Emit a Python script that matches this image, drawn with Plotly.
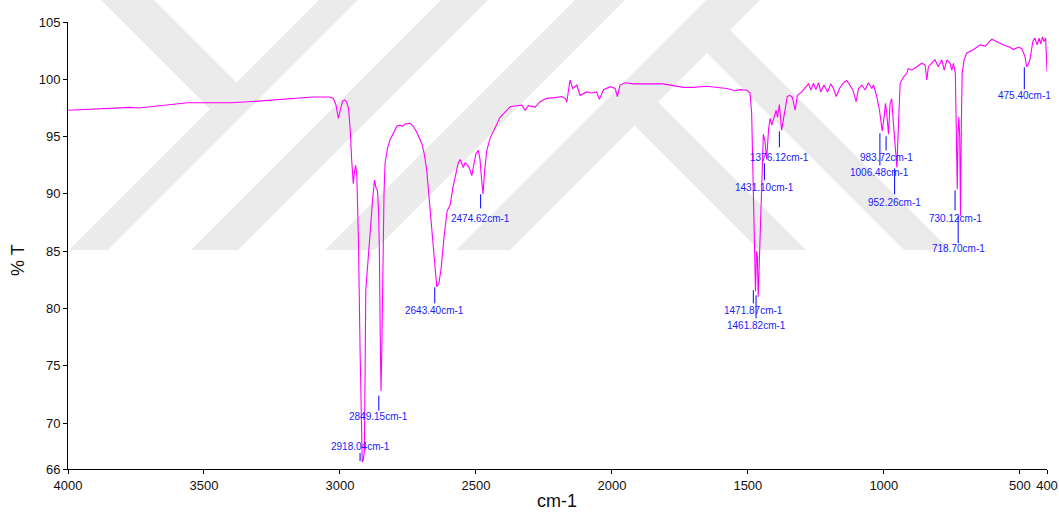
import plotly.graph_objects as go

# ---------------- data ----------------
wavenumber = [
    4000, 3900, 3800, 3772, 3740, 3700, 3680, 3600, 3560, 3500, 3400, 3300, 3200, 3100, 3040,
    3025, 3015, 3006, 2998, 2990, 2982, 2975, 2968, 2962, 2957, 2951, 2946, 2942, 2938, 2932,
    2926, 2921, 2918, 2914, 2910, 2905, 2897, 2889, 2880, 2873, 2867, 2862, 2858, 2855, 2851,
    2849, 2846, 2843, 2838, 2834, 2825, 2816, 2800, 2791, 2779, 2770, 2760, 2742, 2730, 2718,
    2699, 2690, 2681, 2672, 2662, 2652, 2644, 2636, 2628, 2617, 2606, 2600, 2595, 2585, 2577,
    2565, 2558, 2552, 2546, 2540, 2534, 2525, 2515, 2509, 2500, 2491, 2485, 2480, 2474, 2468,
    2460, 2448, 2430, 2411, 2390, 2374, 2350, 2331, 2319, 2307, 2289, 2283, 2264, 2239, 2210,
    2184, 2170, 2166, 2154, 2144, 2129, 2117, 2092, 2074, 2056, 2046, 2031, 2007, 1988, 1980,
    1970, 1951, 1921, 1880, 1850, 1811, 1737, 1700, 1651, 1600, 1578, 1547, 1529, 1504, 1492,
    1486, 1480, 1475, 1472, 1468, 1465, 1462, 1458, 1453, 1447, 1443, 1437, 1431, 1424, 1418,
    1412, 1403, 1396, 1391, 1384, 1376, 1367, 1355, 1345, 1336, 1326, 1318, 1302, 1286, 1277,
    1268, 1259, 1250, 1240, 1232, 1220, 1207, 1195, 1185, 1175, 1163, 1148, 1136, 1124, 1114,
    1102, 1093, 1081, 1069, 1057, 1044, 1038, 1026, 1016, 1006, 999, 994, 989, 983, 977,
    971, 965, 958, 952, 946, 940, 928, 916, 910, 897, 879, 860, 848, 842, 836,
    824, 812, 800, 787, 778, 768, 756, 750, 744, 737, 734, 730, 727, 724, 721,
    718, 715, 712, 705, 695, 670, 646, 627, 603, 585, 560, 536, 524, 505, 493,
    481, 475, 469, 463, 452, 445, 436, 429, 423, 417, 411, 405, 400,
]
transmittance = [
    97.3, 97.4, 97.5, 97.55, 97.5, 97.6, 97.7, 97.85, 97.95, 97.95, 97.95, 98.1, 98.3, 98.45, 98.45,
    98.35, 97.8, 96.6, 97.4, 98.1, 98.2, 98.0, 97.4, 95.5, 93.0, 90.9, 92.0, 92.5, 91.6, 86.0,
    76.4, 68.5, 66.6, 66.8, 67.6, 81.6, 84.5, 86.6, 89.5, 91.2, 90.5, 90.3, 88.5, 85.1, 76.0,
    72.8, 76.5, 82.2, 90.0, 92.7, 94.0, 94.7, 95.5, 95.9, 96.0, 95.9, 96.1, 96.16, 95.9, 95.4,
    94.4, 93.5, 92.1, 89.5, 86.6, 83.5, 81.9, 82.2, 83.5, 86.3, 88.5, 88.8, 89.0, 90.5, 91.5,
    92.7, 93.0, 92.6, 92.3, 92.7, 92.6, 92.3, 91.6, 92.4, 93.5, 93.8, 93.0, 91.5, 90.0, 92.0,
    93.8, 94.85, 95.8, 96.7, 97.2, 97.6, 97.7, 97.75, 97.3, 97.7, 97.6, 97.55, 98.05, 98.34, 98.4,
    98.5, 98.3, 98.0, 99.94, 99.2, 99.5, 98.6, 98.9, 98.8, 98.9, 98.25, 99.07, 99.36, 99.2, 98.5,
    99.5, 99.7, 99.6, 99.6, 99.55, 99.6, 99.3, 99.3, 99.4, 99.3, 99.2, 99.0, 99.1, 99.05, 98.8,
    97.0, 90.0, 84.0, 81.5, 85.0, 84.5, 81.0, 84.0, 89.0, 94.0, 95.2, 94.6, 93.0, 95.6, 96.6,
    96.0, 96.7, 97.3, 96.7, 97.8, 95.55, 97.0, 98.5, 98.6, 98.4, 97.3, 98.6, 98.9, 99.3, 99.6,
    99.07, 99.65, 99.1, 99.7, 98.9, 99.5, 98.9, 99.6, 99.2, 98.5, 99.2, 99.7, 99.9, 99.5, 99.07,
    98.05, 99.2, 99.5, 99.07, 99.7, 99.2, 99.5, 98.5, 97.3, 95.5, 96.7, 97.9, 97.0, 95.2, 97.9,
    98.3, 96.2, 93.8, 92.3, 96.2, 99.65, 100.2, 100.5, 100.95, 100.8, 101.1, 101.4, 101.25, 99.94, 101.1,
    101.4, 101.7, 101.1, 101.7, 100.8, 101.7, 101.4, 100.8, 101.4, 100.5, 96.0, 90.4, 95.5, 96.7, 95.0,
    88.1, 96.0, 100.5, 101.7, 102.3, 102.6, 103.0, 102.9, 103.5, 103.3, 103.0, 102.8, 102.6, 102.8, 102.7,
    101.98, 101.1, 101.3, 101.7, 103.3, 103.6, 103.0, 103.6, 103.1, 103.7, 103.3, 103.6, 100.7,
]

peak_wn = [2918.04, 2849.15, 2643.40, 2474.62, 1471.87, 1461.82, 1431.10, 1376.12,
           1006.48, 983.72, 952.26, 730.12, 718.70, 475.40]
peak_text = ["%.2fcm-1" % w for w in peak_wn]

x_ticks = [4000, 3500, 3000, 2500, 2000, 1500, 1000, 500, 400]
y_ticks = [66, 70, 75, 80, 85, 90, 95, 100, 105]

# ---------------- layout helpers (positions / styles) ----------------
# label placement (tick top, tick bottom, text centre) in %T units
label_place = [
    (67.4, 66.7, 68.0), (72.4, 71.1, 70.6), (81.85, 80.45, 79.84), (89.97, 88.74, 87.87),
    (81.59, 80.45, 79.84), (81.15, 79.14, 78.53), (92.67, 91.19, 90.58), (95.46, 94.07, 93.19),
    (95.29, 92.5, 91.88), (95.03, 93.8, 93.19), (92.23, 89.97, 89.27), (90.31, 88.57, 87.87),
    (88.05, 85.69, 85.25), (101.05, 99.13, 98.6),
]

W, H = 1059, 513
PL, PR, PT, PB = 68, 1047, 22, 469  # plot area in page pixels


def to_paper(px, py):
    return (px - PL) / (PR - PL), (PB - py) / (PB - PT)


def poly_path(points):
    pts = [to_paper(x, y) for x, y in points]
    return "M " + " L ".join("%.5f,%.5f" % p for p in pts) + " Z"


# faint background watermark (diagonal bands), page pixels
TOP, BOT = -5, 250
wm_polys = []
for a, b in [(319, 358), (441, 488), (575, 625), (706, 760)]:   # up-right stripes x+y in [a,b]
    wm_polys.append([(a - TOP, TOP), (b - TOP, TOP), (b - BOT, BOT), (a - BOT, BOT)])
# down-right stripe on the upper left, x-y in [101,154], ending at first stripe
wm_polys.append([(96, TOP), (149, TOP), (236.5, 82.5), (210, 109)])
# down-right stripes on the right, x-y in [a,b], starting at last stripe (x+y = 755)
for a, b in [(509, 556), (654, 700)]:
    wm_polys.append([((755 + a) / 2, (755 - a) / 2), ((755 + b) / 2, (755 - b) / 2),
                     (b + BOT, BOT), (a + BOT, BOT)])

FONT = "Liberation Sans, Arial, Helvetica, sans-serif"
LABEL_BLUE = "#1a1aff"

fig = go.Figure()
fig.add_trace(go.Scatter(
    x=wavenumber, y=transmittance, mode="lines",
    line=dict(color="#ff00ff", width=1.1), hoverinfo="skip", showlegend=False,
))

shapes = []
for pts in wm_polys:
    shapes.append(dict(type="path", xref="paper", yref="paper", path=poly_path(pts),
                       fillcolor="#ebebeb", line=dict(width=0), layer="below"))

annotations = []
for wn, txt, (t_top, t_bot, t_txt) in zip(peak_wn, peak_text, label_place):
    shapes.append(dict(type="line", xref="x", yref="y", x0=wn + 8, x1=wn + 8,
                       y0=t_top, y1=t_bot, line=dict(color="#0000ff", width=1)))
    annotations.append(dict(x=wn + 8, y=t_txt, xref="x", yref="y", text=txt, showarrow=False,
                            xanchor="center", yanchor="middle",
                            font=dict(family=FONT, size=10, color=LABEL_BLUE)))

ax_x, ax_y = to_paper(557, 501)
annotations.append(dict(x=ax_x, y=ax_y, xref="paper", yref="paper", text="cm-1",
                        showarrow=False, xanchor="center", yanchor="middle",
                        font=dict(family=FONT, size=18, color="#111111")))
ay_x, ay_y = to_paper(18, 260)
annotations.append(dict(x=ay_x, y=ay_y, xref="paper", yref="paper", text="% T",
                        showarrow=False, xanchor="center", yanchor="middle", textangle=-90,
                        font=dict(family=FONT, size=18, color="#111111")))

fig.update_layout(
    width=W, height=H, autosize=False,
    margin=dict(l=PL, r=W - PR, t=PT, b=H - PB, pad=0, autoexpand=False),
    paper_bgcolor="white", plot_bgcolor="rgba(0,0,0,0)",
    shapes=shapes, annotations=annotations,
    font=dict(family=FONT, size=13, color="#111111"),
)
fig.update_xaxes(
    range=[4000, 400], tickvals=x_ticks, ticktext=[str(v) for v in x_ticks], automargin=False,
    showgrid=False, zeroline=False, showline=True, linecolor="black", linewidth=1,
    ticks="outside", ticklen=4, tickcolor="black", tickfont=dict(family=FONT, size=13, color="#111111"),
)
fig.update_yaxes(
    range=[66, 105], tickvals=y_ticks, ticktext=[str(v) for v in y_ticks], automargin=False,
    showgrid=False, zeroline=False, showline=True, linecolor="black", linewidth=1,
    ticks="outside", ticklen=4, tickcolor="black", tickfont=dict(family=FONT, size=13, color="#111111"),
)

fig.write_html("out.html", config={"displayModeBar": False},
               post_script="document.body.style.margin='0';document.body.style.overflow='hidden';")
